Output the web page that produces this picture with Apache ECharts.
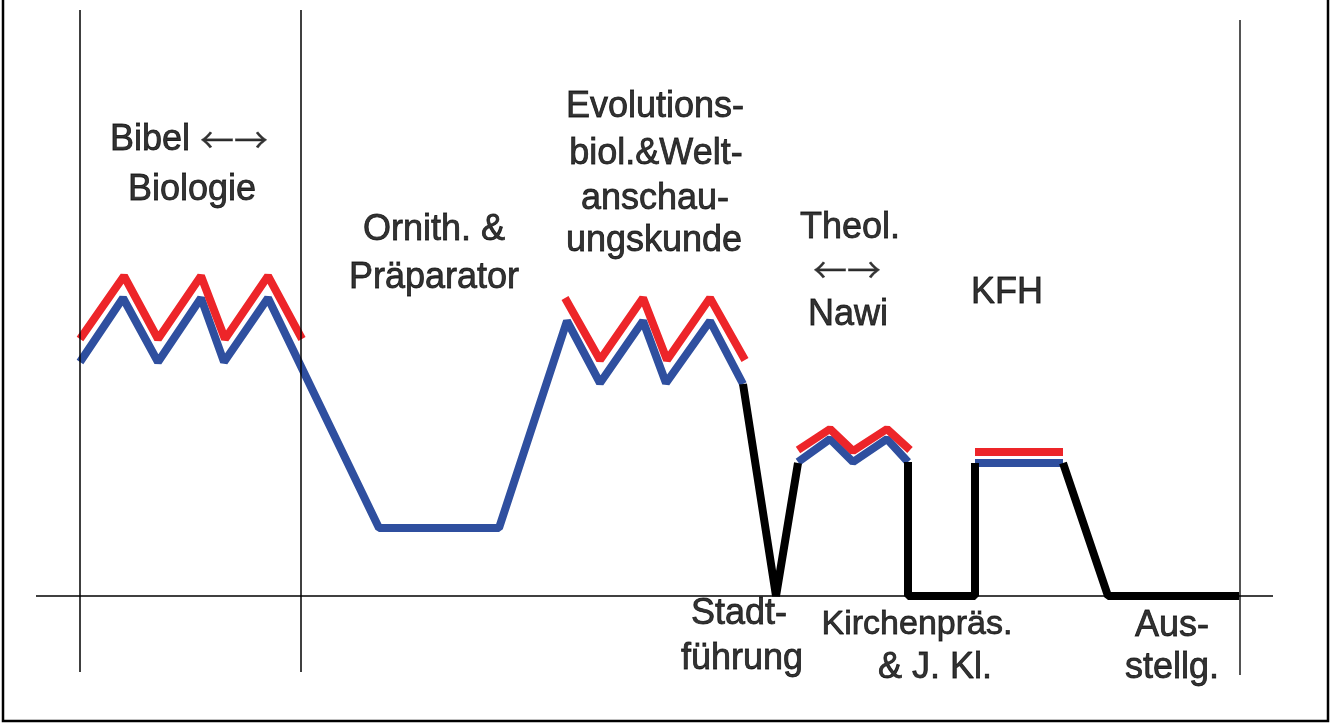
<!DOCTYPE html>
<html>
<head>
<meta charset="utf-8">
<title>Exkursion</title>
<script src="https://cdn.jsdelivr.net/npm/echarts@6/dist/echarts.min.js"></script>
<style>
html,body{margin:0;padding:0;background:#fff;}
#main{width:1330px;height:724px;}
</style>
</head>
<body>
<div id="main"></div>
<script>
// x = Position im Ablauf, y = Niveau über der Grundlinie (0)
// blaue Linie
var blueA = [[80,234],[123,298],[158,234],[201,298],[224,234],[268,298],[379,68],[499,68],[567,275],[600,213],[643,275],[666,213],[710,275],[743,212]];
var blueB = [[798,134],[830,157],[853,134],[887,157],[908,134]];
var blueC = [[975,133],[1063,133]];
// rote Linie
var redA = [[80,257],[124,320],[158,257],[201,320],[225,257],[268,320],[302,257]];
var redB = [[565,298],[600,236],[643,298],[667,236],[710,298],[745,236]];
var redC = [[798,146],[830,167],[853,145],[887,167],[910,146]];
var redD = [[975,144],[1063,144]];
// schwarze Linie
var blackA = [[743,212],[776,0],[798,133]];
var blackB = [[908,134],[908,0],[975,0],[975,133]];
var blackC = [[1063,133],[1108,0],[1240,0]];

// Beschriftungen ({a|..} = Pfeile, {k|..} = etwas kleiner)
var labelText = ['Bibel {a|\u2190\u2192}','Biologie','Ornith. &','Pr\u00e4parator','Evolutions-','biol.&Welt-','anschau-','ungskunde','Theol.','{a|\u2190\u2192}','Nawi','KFH','Stadt-','f\u00fchrung','{k|Kirchenpr\u00e4s.}','& J. Kl.','Aus-','stellg.'];
var labelX = [189,192,434,434,655,656,655,654,850,847,848,1007,739,742,917,935,1172,1172];
var labelY = [456,406,366,318,489,442,397,355,368,326,281,303,-18,-63,-29,-72,-30,-72];

// Trennlinien
var sepX = [80,301];
var sepTop = 586, sepBottom = -76;

var mycharts = echarts.init(document.getElementById('main'));

var labels = labelText.map(function(t,i){
  return {name:t, value:[labelX[i],labelY[i]]};
});

function lineSeries(name,data,color){
  return {
    name:name,
    type:'line',
    data:data,
    showSymbol:false,
    symbol:'none',
    silent:true,
    lineStyle:{color:color,width:8,cap:'butt',join:'bevel'},
    z:3
  };
}

var guideLines = sepX.map(function(x){
  return [{coord:[x,sepTop]},{coord:[x,sepBottom]}];
});
guideLines.push([{coord:[1240,576],lineStyle:{color:'#555',width:2}},{coord:[1240,-79]}]);
guideLines.push([{coord:[36,0]},{coord:[1273,0]}]);

var options = {
  animation:false,
  grid:{left:0,right:0,top:0,bottom:0},
  xAxis:{type:'value',min:0,max:1330,show:false},
  yAxis:{type:'value',min:-128,max:596,show:false},
  graphic:[{
    type:'rect',
    shape:{x:3,y:-10,width:1325,height:731},
    style:{fill:'none',stroke:'#000',lineWidth:2.5},
    silent:true
  }],
  series:[
    {
      type:'line',
      data:[],
      silent:true,
      markLine:{
        silent:true,
        symbol:'none',
        label:{show:false},
        lineStyle:{color:'#000',width:1.5,type:'solid'},
        data:guideLines
      },
      z:1
    },
    lineSeries('blau1',blueA,'#2f4f9f'),
    lineSeries('blau2',blueB,'#2f4f9f'),
    lineSeries('blau3',blueC,'#2f4f9f'),
    lineSeries('rot1',redA,'#ed2529'),
    lineSeries('rot2',redB,'#ed2529'),
    lineSeries('rot3',redC,'#ed2529'),
    lineSeries('rot4',redD,'#ed2529'),
    lineSeries('schwarz1',blackA,'#000'),
    lineSeries('schwarz2',blackB,'#000'),
    lineSeries('schwarz3',blackC,'#000'),
    {
      name:'text',
      type:'scatter',
      data:labels,
      symbolSize:0,
      silent:true,
      itemStyle:{color:'transparent'},
      label:{
        show:true,
        position:'inside',
        formatter:'{b}',
        fontSize:36,
        color:'#000',
        textBorderColor:'#000',
        textBorderWidth:0.8,
        fontFamily:'Liberation Sans, Arial, sans-serif',
        rich:{
          a:{
            fontSize:34,
            color:'#000',
            textBorderColor:'#000',
            textBorderWidth:0.3,
            fontFamily:'Noto Sans CJK SC'
          },
          k:{
            fontSize:34,
            color:'#000',
            textBorderColor:'#000',
            textBorderWidth:0.8,
            fontFamily:'Liberation Sans, Arial, sans-serif'
          }
        }
      },
      z:5
    }
  ]
};
mycharts.setOption(options,true);
window.addEventListener('resize',()=>mycharts.resize());
</script>
</body>
</html>
